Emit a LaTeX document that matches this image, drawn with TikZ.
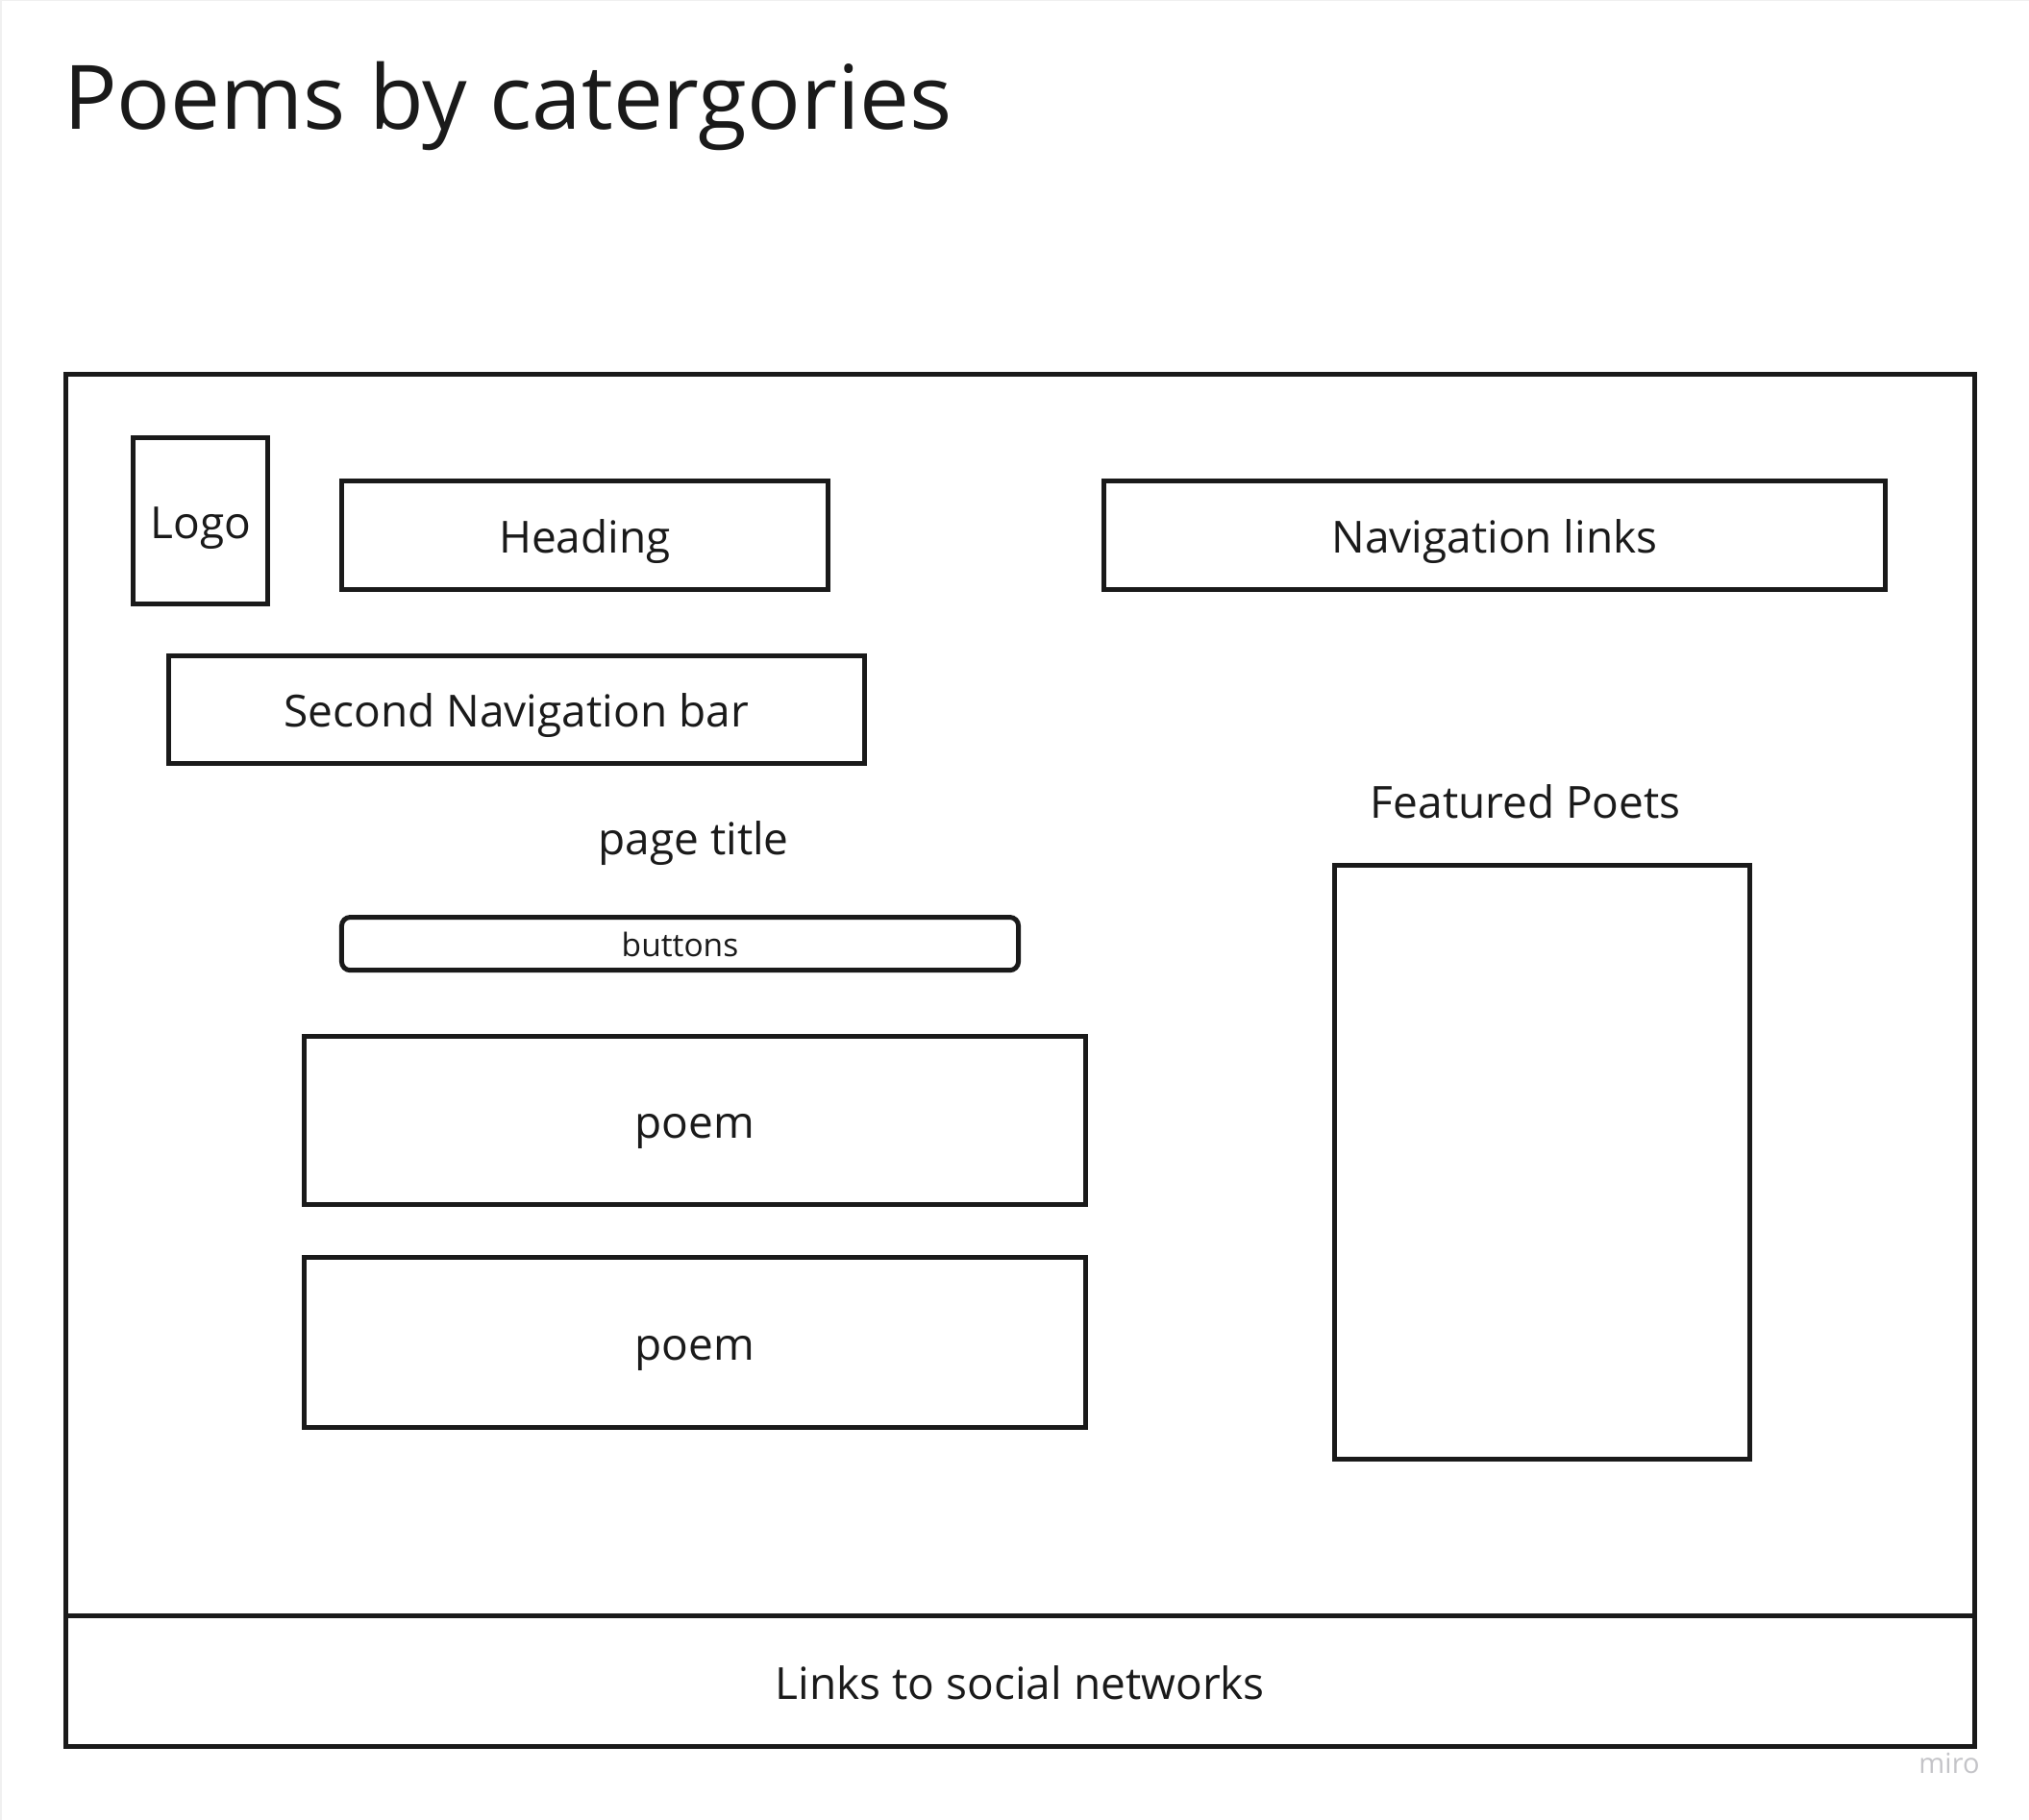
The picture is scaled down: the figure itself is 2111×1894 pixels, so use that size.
\documentclass[tikz,border=0pt]{standalone}
\usepackage{fontspec}
\setmainfont{Open Sans}
\definecolor{ink}{HTML}{1A1A1A}
\definecolor{wm}{HTML}{C4C4C8}
\begin{document}
\begin{tikzpicture}[x=1pt,y=-1pt,
  txt/.style={text=ink, inner sep=0pt, text height=46pt, text depth=9.2pt,
    font=\fontsize{46}{54}\selectfont},
  box/.style={txt, draw=ink, line width=5pt, rectangle},
  label/.style={txt}]
\useasboundingbox (0,0) rectangle (2111,1894);
\fill[white] (0,0) rectangle (2111,1894);
\draw[gray!12, line width=3pt] (0,1894) -- (0,0) -- (2111,0);

% page title
\node[anchor=base west, inner sep=0pt, text=ink, font=\fontsize{92.6}{106}\selectfont]
  (title) at (66,135) {Poems by catergories};

% page frame and footer
\node[box, minimum width=1985.3pt, minimum height=1428.5pt] (page) at (1061.4,1103.3) {};
\node[box, minimum width=1985.3pt, minimum height=135.9pt] (footer) at (1061.4,1749.6) {Links to social networks};

% header row
\node[box, minimum width=140pt, minimum height=173.7pt] (logo) at (208.7,541.9) {Logo};
\node[box, minimum width=506.2pt, minimum height=113.1pt] (heading) at (608.5,557.4) {Heading};
\node[box, minimum width=813.2pt, minimum height=113.1pt] (nav) at (1555,557.4) {Navigation links};
\node[box, minimum width=724.3pt, minimum height=111.7pt] (nav2) at (537.2,738.5) {Second Navigation bar};

% main column
\node[label] (ptitle) at (721.6,871) {page title};
\node[box, rounded corners=9pt, minimum width=704.1pt, minimum height=55.2pt,
  text height=33.5pt, text depth=6.7pt,
  font=\fontsize{33.5}{40}\selectfont] (buttons) at (707.5,982.1) {buttons};
\node[box, minimum width=813.1pt, minimum height=175pt] (poem1) at (723,1165.9) {poem};
\node[box, minimum width=813.1pt, minimum height=176.4pt] (poem2) at (723,1396.8) {poem};

% sidebar
\node[label] (fptitle) at (1587.3,833.4) {Featured Poets};
\node[box, minimum width=432.2pt, minimum height=617.9pt] (featured) at (1604.1,1209.7) {};

% watermark
\node[text=wm, inner sep=0pt, font=\fontsize{29}{33}\selectfont] (miro) at (2028,1835) {miro};
\end{tikzpicture}
\end{document}
